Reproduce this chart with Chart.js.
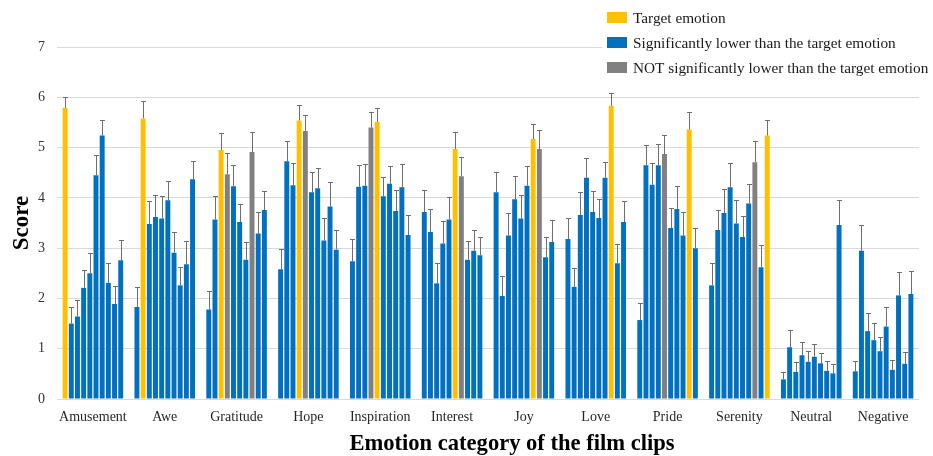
<!DOCTYPE html>
<html>
<head>
<meta charset="utf-8">
<script src="https://cdn.jsdelivr.net/npm/chart.js@4/dist/chart.umd.min.js"></script>
<style>
  html, body { margin: 0; padding: 0; background: #fff; }
  #wrap { width: 933px; height: 456px; }
</style>
</head>
<body>
<div id="wrap"><canvas id="c" width="933" height="456"></canvas></div>
<script>
// Film-clip categories (x axis) and the ten rated emotions within each clip group
const categories = ['Amusement', 'Awe', 'Gratitude', 'Hope', 'Inspiration', 'Interest',
                    'Joy', 'Love', 'Pride', 'Serenity', 'Neutral', 'Negative'];
const ratedEmotions = ['Amusement', 'Awe', 'Gratitude', 'Hope', 'Inspiration', 'Interest',
                       'Joy', 'Love', 'Pride', 'Serenity'];

// Mean score of each rated emotion, one row per clip category
const amusementScores   = [5.79, 1.50, 1.64, 2.21, 2.50, 4.45, 5.24, 2.31, 1.89, 2.76];
const aweScores         = [1.83, 5.58, 3.48, 3.62, 3.59, 3.95, 2.91, 2.26, 2.68, 4.37];
const gratitudeScores   = [1.78, 3.57, 4.95, 4.47, 4.23, 3.52, 2.77, 4.91, 3.29, 3.76];
const hopeScores        = [2.58, 4.73, 4.25, 5.54, 5.33, 4.11, 4.19, 3.15, 3.83, 2.97];
const inspirationScores = [2.74, 4.22, 4.24, 5.40, 5.51, 4.03, 4.28, 3.74, 4.21, 3.26];
const interestScores    = [3.72, 3.32, 2.30, 3.09, 3.57, 4.97, 4.43, 2.77, 2.95, 2.86];
const joyScores         = [4.11, 2.05, 3.25, 3.97, 3.59, 4.24, 5.17, 4.97, 2.82, 3.12];
const loveScores        = [3.18, 2.23, 3.66, 4.40, 3.72, 3.60, 4.40, 5.83, 2.70, 3.52];
const prideScores       = [1.57, 4.65, 4.26, 4.65, 4.87, 3.40, 3.78, 3.25, 5.36, 3.00];
const serenityScores    = [2.26, 3.36, 3.70, 4.21, 3.49, 3.22, 3.89, 4.71, 2.62, 5.24];
const neutralScores     = [0.39, 1.03, 0.54, 0.87, 0.74, 0.84, 0.71, 0.56, 0.51, 3.46];
const negativeScores    = [0.55, 2.95, 1.35, 1.17, 0.95, 1.44, 0.58, 2.06, 0.70, 2.09];

// Standard errors (upper error bar length), same layout
const amusementErr   = [0.22, 0.33, 0.32, 0.35, 0.41, 0.40, 0.30, 0.39, 0.36, 0.41];
const aweErr         = [0.39, 0.34, 0.45, 0.43, 0.44, 0.39, 0.41, 0.36, 0.46, 0.37];
const gratitudeErr   = [0.36, 0.47, 0.33, 0.42, 0.42, 0.36, 0.36, 0.40, 0.43, 0.38];
const hopeErr        = [0.40, 0.41, 0.44, 0.30, 0.31, 0.41, 0.41, 0.44, 0.48, 0.39];
const inspirationErr = [0.45, 0.44, 0.44, 0.30, 0.28, 0.39, 0.36, 0.41, 0.47, 0.39];
const interestErr    = [0.43, 0.45, 0.40, 0.45, 0.45, 0.34, 0.38, 0.37, 0.42, 0.37];
const joyErr         = [0.41, 0.39, 0.45, 0.47, 0.47, 0.40, 0.29, 0.37, 0.41, 0.43];
const loveErr        = [0.42, 0.38, 0.45, 0.40, 0.42, 0.37, 0.32, 0.26, 0.39, 0.41];
const prideErr       = [0.34, 0.40, 0.44, 0.42, 0.38, 0.39, 0.45, 0.46, 0.34, 0.40];
const serenityErr    = [0.45, 0.39, 0.47, 0.49, 0.46, 0.42, 0.39, 0.42, 0.45, 0.31];
const neutralErr     = [0.14, 0.35, 0.19, 0.27, 0.22, 0.25, 0.21, 0.19, 0.19, 0.49];
const negativeErr    = [0.20, 0.52, 0.37, 0.35, 0.29, 0.38, 0.19, 0.46, 0.23, 0.45];

// Status of each bar: T = target emotion, S = significantly lower, N = not significantly lower
const amusementStatus   = 'TSSSSSSSSS';
const aweStatus         = 'STSSSSSSSS';
const gratitudeStatus   = 'SSTNSSSNSS';
const hopeStatus        = 'SSSTNSSSSS';
const inspirationStatus = 'SSSNTSSSSS';
const interestStatus    = 'SSSSSTNSSS';
const joyStatus         = 'SSSSSSTNSS';
const loveStatus        = 'SSSSSSSTSS';
const prideStatus       = 'SSSSNSSSTS';
const serenityStatus    = 'SSSSSSSNST';
const neutralStatus     = 'SSSSSSSSSS';
const negativeStatus    = 'SSSSSSSSSS';

const yTicks = [0, 1, 2, 3, 4, 5, 6, 7];

const xTitle = 'Emotion category of the film clips';

const legendItems = [
  { key: 'T', text: 'Target emotion' },
  { key: 'S', text: 'Significantly lower than the target emotion' },
  { key: 'N', text: 'NOT significantly lower than the target emotion' }
];

// ---- build chart structures ----
const statusColor = { T: '#FFC000', S: '#0070C0', N: '#808080' };
const scoreRows  = [amusementScores, aweScores, gratitudeScores, hopeScores, inspirationScores,
                    interestScores, joyScores, loveScores, prideScores, serenityScores,
                    neutralScores, negativeScores];
const errRows    = [amusementErr, aweErr, gratitudeErr, hopeErr, inspirationErr, interestErr,
                    joyErr, loveErr, prideErr, serenityErr, neutralErr, negativeErr];
const statusRows = [amusementStatus, aweStatus, gratitudeStatus, hopeStatus, inspirationStatus,
                    interestStatus, joyStatus, loveStatus, prideStatus, serenityStatus,
                    neutralStatus, negativeStatus];

const datasets = ratedEmotions.map((name, i) => ({
  label: name,
  data: scoreRows.map(row => row[i]),
  errors: errRows.map(row => row[i]),
  backgroundColor: statusRows.map(s => statusColor[s[i]]),
  borderWidth: 0,
  barPercentage: 0.8,
  categoryPercentage: 0.86
}));

const SERIF = '"Liberation Serif", "Times New Roman", serif';

// Upper error bars with caps
const errorBars = {
  id: 'errorBars',
  afterDatasetsDraw(chart) {
    const ctx = chart.ctx;
    const y = chart.scales.y;
    ctx.save();
    ctx.lineWidth = 1;
    ctx.strokeStyle = '#6e6e6e';
    chart.data.datasets.forEach((ds, di) => {
      const meta = chart.getDatasetMeta(di);
      meta.data.forEach((bar, k) => {
        const top = y.getPixelForValue(ds.data[k] + ds.errors[k]);
        const x = Math.round(bar.x) + 0.5;
        ctx.beginPath();
        ctx.moveTo(x, bar.y);
        ctx.lineTo(x, Math.round(top) + 0.5);
        ctx.moveTo(x - 2.5, Math.round(top) + 0.5);
        ctx.lineTo(x + 2.5, Math.round(top) + 0.5);
        ctx.stroke();
      });
    });
    ctx.restore();
  }
};

// Legend box in the upper-right corner and the x-axis caption
const annotations = {
  id: 'annotations',
  afterDraw(chart) {
    const ctx = chart.ctx;
    ctx.save();
    ctx.fillStyle = '#ffffff';
    ctx.fillRect(602, 4, 331, 76);
    ctx.font = '15.3px ' + SERIF;
    ctx.textBaseline = 'middle';
    ctx.textAlign = 'left';
    legendItems.forEach((item, i) => {
      const cy = 17.5 + i * 25;
      ctx.fillStyle = statusColor[item.key];
      ctx.fillRect(607, cy - 5.5, 20, 11);
      ctx.fillStyle = '#1a1a1a';
      ctx.fillText(item.text, 633, cy + 1);
    });

    // x-axis caption, set slightly right of the plot centre
    ctx.fillStyle = '#000';
    ctx.font = 'bold 24px ' + SERIF;
    ctx.textAlign = 'center';
    ctx.textBaseline = 'alphabetic';
    ctx.translate(512, 450);
    ctx.scale(0.94, 1);
    ctx.fillText(xTitle, 0, 0);
    ctx.restore();
  }
};

new Chart(document.getElementById('c'), {
  type: 'bar',
  data: { labels: categories, datasets },
  options: {
    responsive: false,
    animation: false,
    devicePixelRatio: 1,
    layout: { padding: { top: 47, right: 14, left: 0, bottom: 0 } },
    plugins: {
      legend: { display: false },
      tooltip: { enabled: false }
    },
    scales: {
      x: {
        grid: { display: false, drawTicks: false },
        border: { display: false },
        ticks: {
          padding: 10,
          color: '#262626',
          font: { family: SERIF, size: 14 },
          maxRotation: 0,
          autoSkip: false
        },
        title: { display: false },
        afterFit(scale) { scale.height = 57; }
      },
      y: {
        min: 0,
        max: 7,
        afterBuildTicks(scale) { scale.ticks = yTicks.map(v => ({ value: v })); },
        grid: { color: '#d9d9d9', drawTicks: false, lineWidth: 1 },
        border: { display: false },
        ticks: {
          padding: 12,
          color: '#333',
          font: { family: SERIF, size: 14 }
        },
        title: {
          display: true,
          text: 'Score',
          color: '#000',
          font: { family: SERIF, size: 23, weight: 'bold' },
          padding: { top: 8, bottom: 0 }
        },
        afterFit(scale) { scale.width = 57; }
      }
    }
  },
  plugins: [errorBars, annotations]
});
</script>
</body>
</html>
